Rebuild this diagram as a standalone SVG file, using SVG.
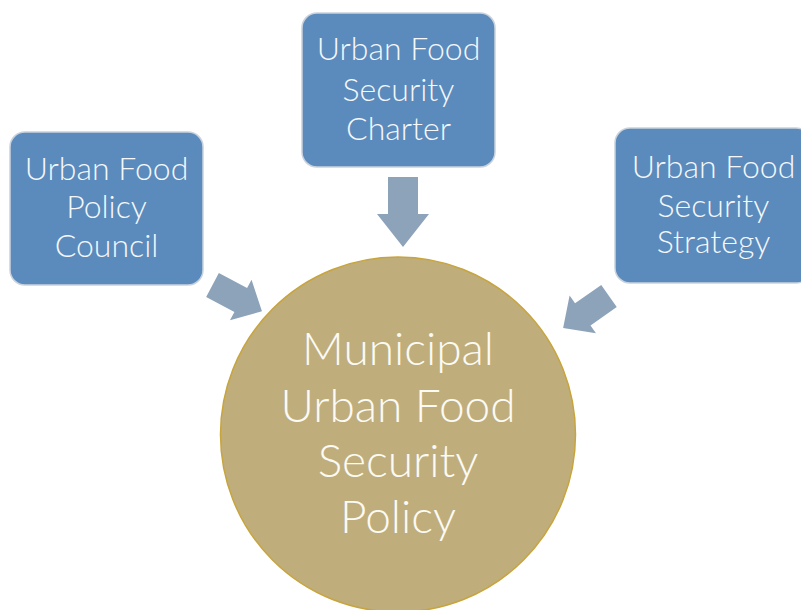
<svg xmlns="http://www.w3.org/2000/svg" width="801" height="610" viewBox="0 0 801 610">
<style>
.box{fill:#5A8BBC;stroke:#C9D2DC;stroke-width:1.5}
.bt{font-family:Lato,"Open Sans","Liberation Sans",sans-serif;font-weight:300;font-size:32px;fill:#F5F7FA;text-anchor:middle}
.ct{font-family:Lato,"Open Sans","Liberation Sans",sans-serif;font-weight:300;font-size:46px;fill:#FBFAF5;text-anchor:middle}
.arr{fill:#8DA3BA}
</style>
<defs>
<path id="arrS" d="M0,-13.5 L32,-13.5 L32,-23 L56,0 L32,23 L32,13.5 L0,13.5 Z"/>
<path id="arrL" d="M0,-15 L37,-15 L37,-26 L70,0 L37,26 L37,15 L0,15 Z"/>
</defs>
<rect width="801" height="610" fill="#FFFFFF"/>
<g id="connectors">
<use href="#arrL" class="arr" transform="translate(403,177) rotate(90)"/>
<use href="#arrS" class="arr" transform="translate(212.5,285) rotate(28)"/>
<use href="#arrS" class="arr" transform="translate(609,296) rotate(145)"/>
</g>
<g id="policy">
<circle cx="398" cy="434.5" r="177.5" fill="#BFAE7C" stroke="#C8A43C" stroke-width="1.5"/>
<text class="ct" x="398" y="365">Municipal</text>
<text class="ct" x="398" y="422">Urban Food</text>
<text class="ct" x="398" y="477">Security</text>
<text class="ct" x="398" y="533">Policy</text>
</g>
<g id="charter">
<rect class="box" x="302" y="13" width="193" height="154" rx="15"/>
<text class="bt" x="398.5" y="60">Urban Food</text>
<text class="bt" x="398.5" y="101">Security</text>
<text class="bt" x="398.5" y="140">Charter</text>
</g>
<g id="council">
<rect class="box" x="10" y="132" width="193" height="153" rx="15"/>
<text class="bt" x="106.5" y="180">Urban Food</text>
<text class="bt" x="106.5" y="218">Policy</text>
<text class="bt" x="106.5" y="257">Council</text>
</g>
<g id="strategy">
<rect class="box" x="615" y="128" width="196" height="155" rx="15"/>
<text class="bt" x="713.5" y="178">Urban Food</text>
<text class="bt" x="713.5" y="217">Security</text>
<text class="bt" x="713.5" y="253">Strategy</text>
</g>
</svg>
